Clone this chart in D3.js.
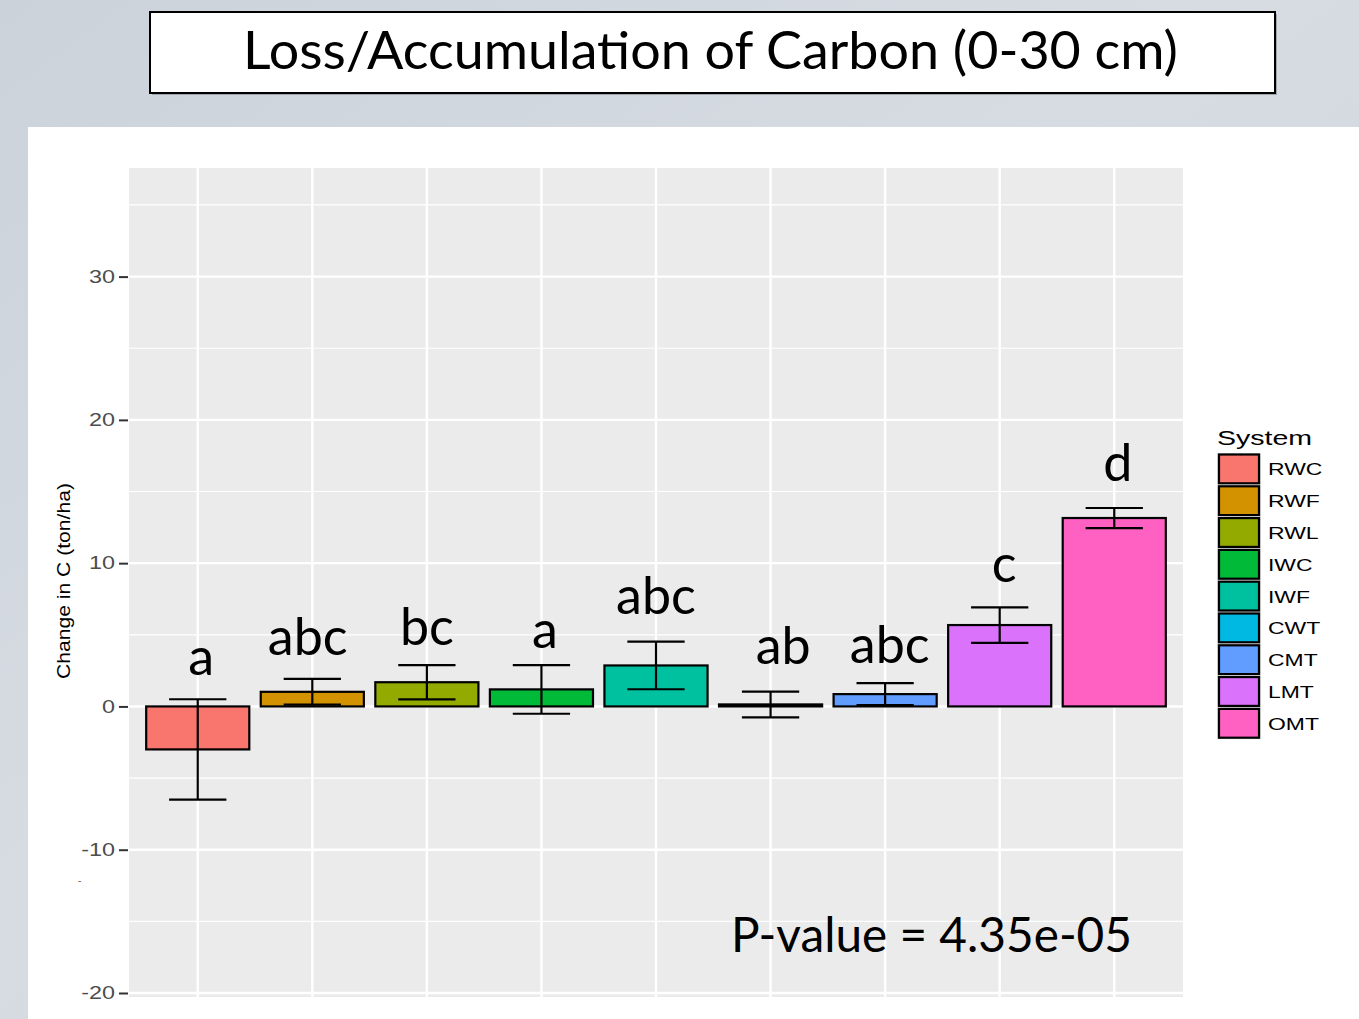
<!DOCTYPE html>
<html>
<head>
<meta charset="utf-8">
<script src="https://cdn.jsdelivr.net/npm/d3@7"></script>
<style>
  html, body { margin: 0; padding: 0; background: #d3d9e0; }
  svg { display: block; }
</style>
</head>
<body>
<svg id="chart" width="1359" height="1019"></svg>
<script>
// Soil carbon change by system (0-30 cm), mean and standard error
const systems = ["RWC", "RWF", "RWL", "IWC", "IWF", "CWT", "CMT", "LMT", "OMT"];
const meanChange = [-3.0, 1.02, 1.69, 1.19, 2.86, 0.14, 0.86, 5.68, 13.15];
const stdError = [3.5, 0.9, 1.2, 1.7, 1.66, 0.9, 0.77, 1.24, 0.7];
const colors = ["#F8766D", "#D39200", "#93AA00", "#00BA38", "#00C19F", "#00B9E3", "#619CFF", "#DB72FB", "#FF61C3"];

// Tukey group letters: text, x (category index, 1-based) and y (data units)
const groupLetters = ["a", "abc", "bc", "a", "abc", "ab", "abc", "c", "d"];
const letterX = [1.03, 1.96, 3.0, 4.03, 5.0, 6.11, 7.04, 8.04, 9.03];
const letterY = [2.2, 3.6, 4.3, 4.1, 6.46, 2.96, 3.04, 8.7, 15.7];

const yTicks = [-20, -10, 0, 10, 20, 30];
const yMinor = [-15, -5, 5, 15, 25, 35];
const yDomain = [-20.28, 37.58];

const titleText = "Loss/Accumulation of Carbon (0-30 cm)";
const yLabel = "Change in C (ton/ha)";
const legendTitle = "System";
const pValueText = "P-value = 4.35e-05";

const svg = d3.select("#chart");

// slide background
const defs = svg.append("defs");
const grad = defs.append("linearGradient").attr("id", "bg").attr("x1", 0).attr("y1", 0).attr("x2", 1).attr("y2", 1);
grad.append("stop").attr("offset", "0%").attr("stop-color", "#cbd2da");
grad.append("stop").attr("offset", "45%").attr("stop-color", "#d7dce2");
grad.append("stop").attr("offset", "100%").attr("stop-color", "#cdd4dc");
svg.append("rect").attr("width", 1359).attr("height", 1019).attr("fill", "url(#bg)");

// title box with soft shadow
svg.append("rect").attr("x", 152).attr("y", 14).attr("width", 1125).attr("height", 81).attr("fill", "#7d8288").attr("opacity", 0.6);
svg.append("rect").attr("x", 150).attr("y", 12).attr("width", 1125).attr("height", 81)
  .attr("fill", "#fff").attr("stroke", "#000").attr("stroke-width", 2);
svg.append("text").attr("x", 243).attr("y", 69)
  .attr("font-family", "Lato, 'Open Sans', sans-serif").attr("font-size", 53)
  .attr("textLength", 935).attr("lengthAdjust", "spacingAndGlyphs")
  .attr("fill", "#000").text(titleText);

// white plot canvas
svg.append("rect").attr("x", 28).attr("y", 127).attr("width", 1331).attr("height", 892).attr("fill", "#fff");

const panel = { left: 129, right: 1183, top: 168, bottom: 997 };

const x = d3.scalePoint().domain(systems).range([panel.left, panel.right]).padding(0.6);
const step = x.step();
const y = d3.scaleLinear().domain(yDomain).range([panel.bottom, panel.top]);

// panel background and grid
svg.append("rect").attr("x", panel.left).attr("y", panel.top)
  .attr("width", panel.right - panel.left).attr("height", panel.bottom - panel.top).attr("fill", "#EBEBEB");

const grid = svg.append("g");
grid.selectAll(".minor").data(yMinor).join("line")
  .attr("x1", panel.left).attr("x2", panel.right)
  .attr("y1", d => y(d)).attr("y2", d => y(d))
  .attr("stroke", "#fff").attr("stroke-width", 1.2);
grid.selectAll(".majorY").data(yTicks).join("line")
  .attr("x1", panel.left).attr("x2", panel.right)
  .attr("y1", d => y(d)).attr("y2", d => y(d))
  .attr("stroke", "#fff").attr("stroke-width", 2.4);
grid.selectAll(".majorX").data(systems).join("line")
  .attr("x1", d => x(d)).attr("x2", d => x(d))
  .attr("y1", panel.top).attr("y2", panel.bottom)
  .attr("stroke", "#fff").attr("stroke-width", 2.4);

// bars
const barW = step * 0.9;
svg.append("g").selectAll("rect").data(systems).join("rect")
  .attr("x", d => x(d) - barW / 2)
  .attr("width", barW)
  .attr("y", (d, i) => y(Math.max(0, meanChange[i])))
  .attr("height", (d, i) => Math.abs(y(meanChange[i]) - y(0)))
  .attr("fill", (d, i) => colors[i])
  .attr("stroke", "#000").attr("stroke-width", 2.2);

// error bars
const errW = step * 0.5;
const eb = svg.append("g").attr("stroke", "#000").attr("stroke-width", 2.2).attr("fill", "none");
systems.forEach((s, i) => {
  const hi = y(meanChange[i] + stdError[i]);
  const lo = y(meanChange[i] - stdError[i]);
  const cx = x(s);
  eb.append("line").attr("x1", cx).attr("x2", cx).attr("y1", hi).attr("y2", lo);
  eb.append("line").attr("x1", cx - errW / 2).attr("x2", cx + errW / 2).attr("y1", hi).attr("y2", hi);
  eb.append("line").attr("x1", cx - errW / 2).attr("x2", cx + errW / 2).attr("y1", lo).attr("y2", lo);
});

// group letters
const letterPos = d3.scaleLinear().domain([1, 2]).range([x(systems[0]), x(systems[1])]);
svg.append("g").selectAll("text").data(groupLetters).join("text")
  .attr("x", (d, i) => letterPos(letterX[i]))
  .attr("y", (d, i) => y(letterY[i]))
  .attr("text-anchor", "middle")
  .attr("font-family", "Lato, 'Open Sans', sans-serif").attr("font-size", 52)
  .attr("fill", "#000").text(d => d);

// p-value annotation
svg.append("text").attr("x", 731).attr("y", 952)
  .attr("font-family", "Lato, 'Open Sans', sans-serif").attr("font-size", 48)
  .attr("textLength", 401).attr("lengthAdjust", "spacingAndGlyphs")
  .attr("fill", "#000").text(pValueText);

// y axis
const axis = svg.append("g").attr("transform", `translate(${panel.left - 1},0)`)
  .call(d3.axisLeft(y).tickValues(yTicks).tickSize(9).tickPadding(4).tickFormat(d => String(d)));
axis.select(".domain").remove();
axis.selectAll(".tick line").attr("stroke", "#333").attr("stroke-width", 2);
axis.selectAll(".tick text")
  .attr("font-family", "'Liberation Sans', Arial, sans-serif").attr("font-size", 18)
  .attr("fill", "#4D4D4D")
  .attr("x", -13 / 1.3).attr("transform", "scale(1.3,1)");

svg.append("text")
  .attr("transform", "translate(70,581) rotate(-90)")
  .attr("text-anchor", "middle")
  .attr("font-family", "'Liberation Sans', Arial, sans-serif").attr("font-size", 17.5)
  .attr("textLength", 196).attr("lengthAdjust", "spacingAndGlyphs")
  .attr("fill", "#000").text(yLabel);

svg.append("text").attr("x", 78).attr("y", 884)
  .attr("font-family", "'Liberation Sans', Arial, sans-serif").attr("font-size", 10)
  .attr("fill", "#666").text("-");

// legend
const legend = svg.append("g").attr("transform", "translate(1217,453)");
legend.append("text").attr("x", 0).attr("y", -8)
  .attr("font-family", "'Liberation Sans', Arial, sans-serif").attr("font-size", 21)
  .attr("transform", "scale(1.36,1)")
  .attr("fill", "#000").text(legendTitle);
const keyH = 31.8;
const keys = legend.selectAll(".key").data(systems).join("g")
  .attr("transform", (d, i) => `translate(0,${i * keyH})`);
keys.append("rect").attr("width", 44).attr("height", keyH).attr("fill", "#d9d9d9");
keys.append("rect").attr("x", 2).attr("y", 1.5).attr("width", 40).attr("height", keyH - 3)
  .attr("fill", (d, i) => colors[i]).attr("stroke", "#000").attr("stroke-width", 2.2);
keys.append("text").attr("x", 51 / 1.35).attr("y", keyH / 2 + 6.5)
  .attr("transform", "scale(1.35,1)")
  .attr("font-family", "'Liberation Sans', Arial, sans-serif").attr("font-size", 17)
  .attr("fill", "#000").text(d => d);
</script>
</body>
</html>
